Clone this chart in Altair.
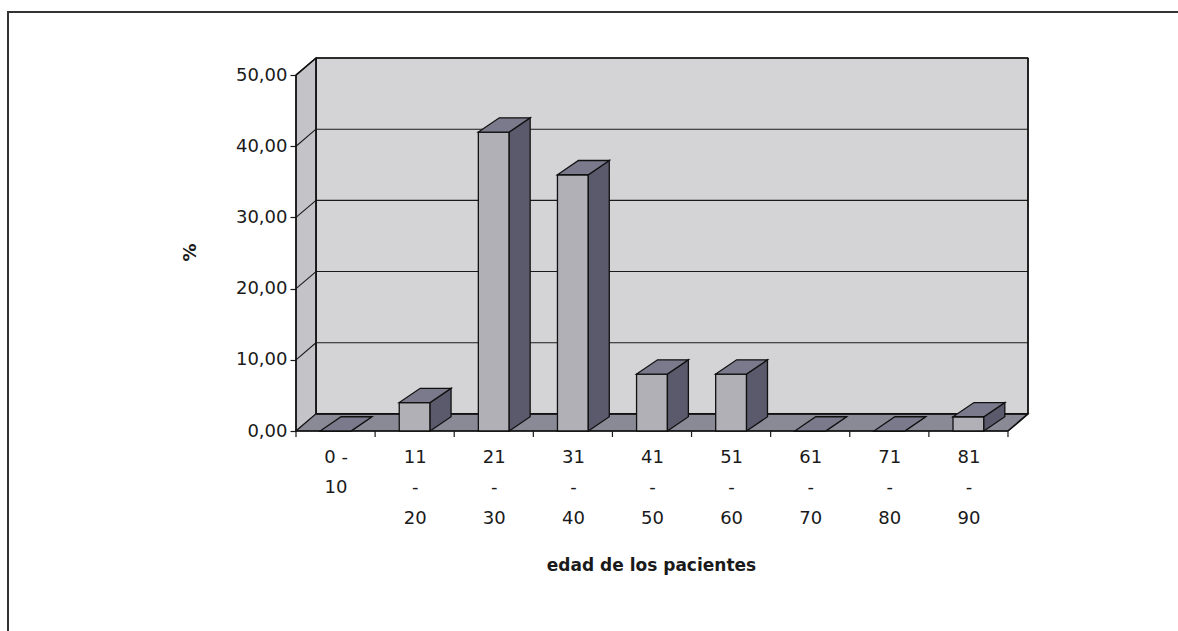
import altair as alt
import pandas as pd

# ---------------- data ----------------
categories = ["0 - 10", "11 - 20", "21 - 30", "31 - 40", "41 - 50",
              "51 - 60", "61 - 70", "71 - 80", "81 - 90"]
label_lines = [["0 -", "10"], ["11", "-", "20"], ["21", "-", "30"],
               ["31", "-", "40"], ["41", "-", "50"], ["51", "-", "60"],
               ["61", "-", "70"], ["71", "-", "80"], ["81", "-", "90"]]
percent = [0.0, 4.0, 42.0, 36.0, 8.0, 8.0, 0.0, 0.0, 2.0]
y_ticks = [0, 10, 20, 30, 40, 50]
x_title = "edad de los pacientes"
y_title = "%"

# ---------------- style ----------------
BAR_W = 0.39           # bar width in category units
BAR_DX, BAR_DY = 0.265, 2.0     # bar depth (x in category units, y in %)
WALL_DX, WALL_DY = 0.253, 2.4   # depth of floor / walls
FONT = "DejaVu Sans"
n = len(categories)
YMAX = y_ticks[-1]

xscale = alt.Scale(domain=[0, n + WALL_DX], nice=False, zero=False)
yscale = alt.Scale(domain=[0, YMAX + WALL_DY], nice=False, zero=False)

# ---------------- geometry built from data ----------------
rows = []
def poly(pid, face, pts, order):
    for (x, lo, hi) in pts:
        rows.append(dict(pid=pid, face=face, x=x, lo=lo, hi=hi, order=order))

walls = []
def wpoly(pid, face, pts):
    for (x, lo, hi) in pts:
        walls.append(dict(pid=pid, face=face, x=x, lo=lo, hi=hi))

wpoly("back", "back", [(WALL_DX, WALL_DY, YMAX + WALL_DY), (n + WALL_DX, WALL_DY, YMAX + WALL_DY)])
wpoly("left", "left", [(0, 0, YMAX), (WALL_DX, WALL_DY, YMAX + WALL_DY)])
wpoly("floor", "floor", [(0, 0, 0), (WALL_DX, 0, WALL_DY), (n, 0, WALL_DY), (n + WALL_DX, WALL_DY, WALL_DY)])
walls_df = pd.DataFrame(walls)

for i, (c, v) in enumerate(zip(categories, percent)):
    x0 = i + 0.5 - BAR_W / 2
    x1 = i + 0.5 + BAR_W / 2
    poly(c + "_front", "front", [(x0, 0, v), (x1, 0, v)], 0)
    poly(c + "_side", "side", [(x1, 0, v), (x1 + BAR_DX, BAR_DY, v + BAR_DY)], 1)
    poly(c + "_top", "top", [(x0, v, v), (x0 + BAR_DX, v, v + BAR_DY),
                             (x1, v, v + BAR_DY), (x1 + BAR_DX, v + BAR_DY, v + BAR_DY)], 2)
bars_df = pd.DataFrame(rows)

grid_rows = []
for v in y_ticks[1:-1]:
    grid_rows.append(dict(x=WALL_DX, x2=n + WALL_DX, y=v + WALL_DY, y2=v + WALL_DY))
    grid_rows.append(dict(x=0, x2=WALL_DX, y=v, y2=v + WALL_DY))
grid_df = pd.DataFrame(grid_rows)

edge_rows = [
    dict(x=0, x2=0, y=0, y2=YMAX),
    dict(x=0, x2=WALL_DX, y=YMAX, y2=YMAX + WALL_DY),
    dict(x=WALL_DX, x2=n + WALL_DX, y=YMAX + WALL_DY, y2=YMAX + WALL_DY),
    dict(x=n + WALL_DX, x2=n + WALL_DX, y=WALL_DY, y2=YMAX + WALL_DY),
    dict(x=WALL_DX, x2=WALL_DX, y=WALL_DY, y2=YMAX + WALL_DY),
    dict(x=0, x2=n, y=0, y2=0),
    dict(x=n, x2=n + WALL_DX, y=0, y2=WALL_DY),
    dict(x=WALL_DX, x2=n + WALL_DX, y=WALL_DY, y2=WALL_DY),
]
edge_df = pd.DataFrame(edge_rows)
tick_df = pd.DataFrame({"x": list(range(n + 1)), "y": [0] * (n + 1)})

lab_js = "[" + ",".join("'" + "|".join(l) + "'" for l in label_lines) + "]"

x_axis = alt.Axis(
    values=[i + 0.5 for i in range(n)], ticks=False, domain=False, grid=False,
    labelExpr=f"split({lab_js}[floor(datum.value)], '|')",
    labelFont=FONT, labelFontSize=18, labelColor="#1a1a1a", labelLineHeight=30.5,
    labelPadding=17, labelAngle=0,
    title=x_title, titleFont=FONT, titleFontSize=17, titleFontWeight="bold",
    titleColor="#1a1a1a", titleX=355, titleY=134, titleBaseline="middle",
    titleAnchor="start", titleAlign="center",
)
y_axis = alt.Axis(
    values=y_ticks, domain=False, grid=False, ticks=True, tickSize=6,
    tickColor="#1a1a1a", tickWidth=1.2,
    labelExpr="replace(format(datum.value, '.2f'), '.', ',')",
    labelFont=FONT, labelFontSize=18, labelColor="#1a1a1a", labelPadding=3,
    title=y_title, titleFont=FONT, titleFontSize=18, titleFontWeight="bold",
    titleColor="#1a1a1a", titleX=-106, titleY=194, titleBaseline="middle",
    titleAlign="center", titleAngle=270,
)

def X(f):
    return alt.X(f, scale=xscale, axis=x_axis, title=x_title)

def Y(f):
    return alt.Y(f, scale=yscale, axis=y_axis, title=y_title)

wall_colors = alt.Scale(domain=["back", "left", "floor"], range=["#d4d4d6", "#c4c4c8", "#8a8a96"])
bar_colors = alt.Scale(domain=["front", "side", "top"], range=["#b0b0b6", "#5a5a6c", "#7a7a8c"])

walls_layer = alt.Chart(walls_df).mark_area(stroke="#1a1a1a", strokeWidth=1.2, interpolate="linear").encode(
    x=X("x:Q"), y=Y("lo:Q"), y2="hi:Q",
    fill=alt.Fill("face:N", scale=wall_colors, legend=None),
    detail="pid:N",
)

grid_layer = alt.Chart(grid_df).mark_rule(color="#1a1a1a", strokeWidth=1.1).encode(
    x=X("x:Q"), x2="x2:Q", y=Y("y:Q"), y2="y2:Q",
)

edge_layer = alt.Chart(edge_df).mark_rule(color="#111111", strokeWidth=1.6).encode(
    x=X("x:Q"), x2="x2:Q", y=Y("y:Q"), y2="y2:Q",
)

bars_layer = alt.Chart(bars_df).mark_area(stroke="#111111", strokeWidth=1.3, interpolate="linear").encode(
    x=X("x:Q"), y=Y("lo:Q"), y2="hi:Q",
    fill=alt.Fill("face:N", scale=bar_colors, legend=None),
    detail="pid:N",
)

tick_layer = alt.Chart(tick_df).mark_rule(color="#1a1a1a", strokeWidth=1.2, y2Offset=6).encode(
    x=X("x:Q"), y=Y("y:Q"), y2="y:Q",
)

frame = alt.Chart(pd.DataFrame({"k": [0]})).mark_rect(
    fill="transparent", stroke="#333333", strokeWidth=2
).encode(
    x=alt.value(-288), x2=alt.value(900), y=alt.value(-46), y2=alt.value(600),
)

chart = alt.layer(walls_layer, grid_layer, edge_layer, bars_layer, tick_layer, frame).resolve_scale(
    fill="independent"
).properties(
    width=732, height=373,
    autosize=alt.AutoSizeParams(type="none"),
    padding={"left": 296, "top": 58, "right": 150, "bottom": 200},
    background="white",
).configure_view(strokeWidth=0)

chart.save("out.html", embed_options={"renderer": "svg", "actions": False})
